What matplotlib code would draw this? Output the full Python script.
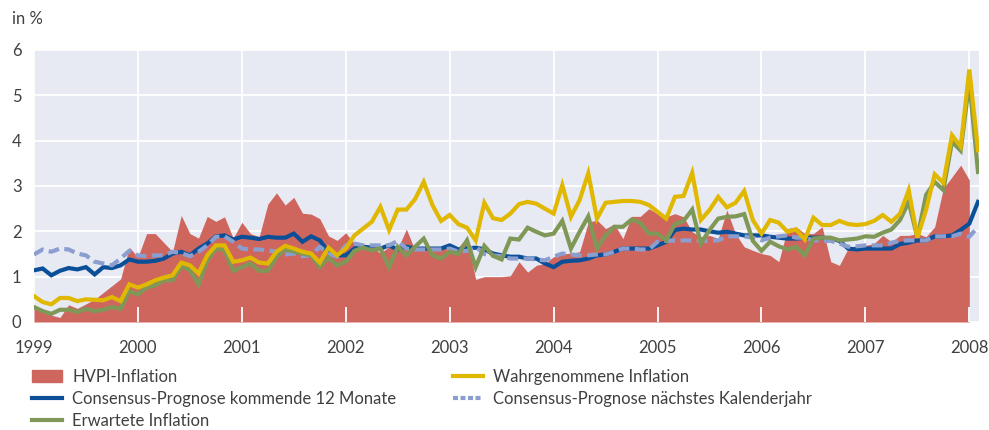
import numpy as np
import matplotlib.pyplot as plt
from matplotlib.lines import Line2D
from matplotlib.patches import Patch

# monthly values, Jan 1999 onwards
hvpi = [0.30, 0.22, 0.15, 0.10, 0.38, 0.30, 0.40, 0.50, 0.65, 0.80, 0.95, 1.65,
        1.43, 1.95, 1.95, 1.75, 1.55, 2.35, 1.95, 1.85, 2.33, 2.22, 2.32, 1.85,
        2.20, 1.95, 1.88, 2.60, 2.85, 2.58, 2.75, 2.40, 2.38, 2.28, 1.90, 1.80,
        1.97, 1.72, 1.66, 1.66, 1.52, 1.66, 1.62, 2.05, 1.58, 1.60, 1.62, 1.62,
        1.62, 1.65, 1.87, 0.94, 1.00, 1.00, 1.00, 1.02, 1.33, 1.10, 1.25, 1.29,
        1.44, 1.50, 1.52, 1.55, 2.20, 2.25, 2.06, 2.16, 1.84, 2.33, 2.33, 2.50,
        2.39, 2.32, 2.39, 2.32, 1.99, 1.88, 1.91, 1.84, 2.47, 1.95, 1.66, 1.58,
        1.51, 1.47, 1.33, 2.06, 2.10, 1.95, 1.95, 2.10, 1.33, 1.25, 1.62, 1.69,
        1.69, 1.73, 1.91, 1.77, 1.91, 1.91, 1.95, 1.88, 2.10, 2.95, 3.20, 3.46,
        3.13]

wahrgenommen = [0.57, 0.44, 0.39, 0.53, 0.53, 0.46, 0.50, 0.49, 0.48, 0.55, 0.46, 0.83,
                0.76, 0.83, 0.92, 0.98, 1.03, 1.31, 1.25, 1.07, 1.47, 1.69, 1.69, 1.33,
                1.36, 1.42, 1.31, 1.29, 1.55, 1.68, 1.62, 1.55, 1.51, 1.31, 1.64, 1.47,
                1.62, 1.91, 2.06, 2.21, 2.54, 2.03, 2.48, 2.48, 2.71, 3.09, 2.58, 2.23,
                2.36, 2.16, 2.08, 1.80, 2.63, 2.29, 2.25, 2.39, 2.60, 2.65, 2.61, 2.50,
                2.39, 3.02, 2.32, 2.69, 3.28, 2.28, 2.63, 2.65, 2.67, 2.67, 2.65, 2.58,
                2.43, 2.28, 2.76, 2.78, 3.29, 2.25, 2.47, 2.76, 2.53, 2.63, 2.89, 2.25,
                1.95, 2.25, 2.19, 1.99, 2.04, 1.82, 2.30, 2.14, 2.14, 2.23, 2.16, 2.14,
                2.16, 2.23, 2.36, 2.21, 2.39, 2.91, 1.86, 2.47, 3.26, 3.07, 4.12, 3.87,
                5.57, 3.79]

erwartet = [0.33, 0.24, 0.18, 0.27, 0.27, 0.22, 0.29, 0.24, 0.27, 0.33, 0.29, 0.68,
            0.61, 0.76, 0.81, 0.92, 0.92, 1.23, 1.14, 0.83, 1.35, 1.62, 1.58, 1.13,
            1.21, 1.29, 1.13, 1.13, 1.44, 1.60, 1.55, 1.51, 1.47, 1.21, 1.42, 1.25,
            1.33, 1.57, 1.64, 1.58, 1.62, 1.21, 1.66, 1.47, 1.66, 1.84, 1.47, 1.40,
            1.55, 1.50, 1.80, 1.21, 1.68, 1.46, 1.38, 1.84, 1.82, 2.08, 1.99, 1.91,
            1.95, 2.23, 1.62, 1.99, 2.33, 1.62, 1.91, 2.10, 2.10, 2.26, 2.19, 1.95,
            1.95, 1.80, 2.16, 2.23, 2.48, 1.73, 2.03, 2.28, 2.32, 2.33, 2.38, 1.79,
            1.57, 1.77, 1.67, 1.60, 1.66, 1.47, 1.84, 1.86, 1.86, 1.80, 1.82, 1.84,
            1.89, 1.88, 1.97, 2.04, 2.25, 2.65, 1.86, 2.80, 3.09, 2.91, 3.98, 3.78,
            5.30, 3.31]

consensus_12m = [1.14, 1.18, 1.03, 1.13, 1.19, 1.16, 1.21, 1.05, 1.21, 1.19, 1.25, 1.38,
                 1.33, 1.33, 1.35, 1.40, 1.51, 1.55, 1.47, 1.62, 1.73, 1.89, 1.91, 1.82,
                 1.88, 1.86, 1.83, 1.88, 1.86, 1.86, 1.95, 1.77, 1.89, 1.80, 1.55, 1.47,
                 1.47, 1.62, 1.66, 1.64, 1.62, 1.69, 1.60, 1.66, 1.62, 1.62, 1.62, 1.62,
                 1.69, 1.60, 1.62, 1.64, 1.60, 1.51, 1.47, 1.44, 1.44, 1.40, 1.40, 1.29,
                 1.21, 1.33, 1.35, 1.36, 1.40, 1.47, 1.49, 1.55, 1.62, 1.62, 1.62, 1.62,
                 1.69, 1.77, 2.03, 2.06, 2.04, 2.04, 2.00, 1.97, 1.99, 1.95, 1.91, 1.91,
                 1.91, 1.88, 1.86, 1.84, 1.84, 1.86, 1.86, 1.86, 1.84, 1.79, 1.62, 1.60,
                 1.62, 1.62, 1.62, 1.62, 1.72, 1.75, 1.80, 1.80, 1.89, 1.89, 1.91, 2.03,
                 2.17, 2.65]

consensus_jahr = [1.49, 1.60, 1.55, 1.62, 1.60, 1.51, 1.47, 1.33, 1.29, 1.25, 1.40, 1.57,
                  1.47, 1.45, 1.47, 1.47, 1.55, 1.52, 1.45, 1.55, 1.69, 1.88, 1.89, 1.77,
                  1.62, 1.60, 1.60, 1.58, 1.55, 1.49, 1.51, 1.45, 1.47, 1.66, 1.51, 1.44,
                  1.69, 1.73, 1.69, 1.69, 1.69, 1.69, 1.79, 1.62, 1.60, 1.60, 1.60, 1.60,
                  1.62, 1.55, 1.57, 1.66, 1.50, 1.47, 1.45, 1.40, 1.40, 1.40, 1.38, 1.36,
                  1.44, 1.51, 1.49, 1.47, 1.47, 1.49, 1.49, 1.55, 1.62, 1.62, 1.60, 1.60,
                  1.77, 1.79, 1.80, 1.80, 1.80, 1.79, 1.79, 1.80, 1.89, 1.89, 1.89, 1.86,
                  1.80, 1.86, 1.89, 1.91, 1.86, 1.86, 1.80, 1.79, 1.79, 1.73, 1.66, 1.67,
                  1.69, 1.69, 1.69, 1.75, 1.79, 1.80, 1.80, 1.80, 1.89, 1.89, 1.89, 1.95,
                  1.88, 2.10]

years = list(range(1999, 2009))
labels = ['HVPI-Inflation', 'Consensus-Prognose kommende 12 Monate', 'Erwartete Inflation',
          'Wahrgenommene Inflation', 'Consensus-Prognose nächstes Kalenderjahr']

c_red = '#cf665e'
c_yellow = '#e1b800'
c_green = '#7f9858'
c_blue = '#0a4f98'
c_lblue = '#8a9ecf'
c_bg = '#e7e9f3'
c_text = '#404040'

plt.rcParams['font.family'] = ['Lato', 'DejaVu Sans']

t_red = 1999 + np.arange(len(hvpi)) / 12
t = 1999 + np.arange(len(wahrgenommen)) / 12

fig = plt.figure(figsize=(9.89, 4.30), dpi=100)
ax = fig.add_axes([34 / 989, 1 - 322 / 430, 945 / 989, 272 / 430])
ax.set_facecolor(c_bg)
for s in ax.spines.values():
    s.set_visible(False)

ax.fill_between(t_red, 0, hvpi, color=c_red, lw=0, zorder=2)
ax.plot(t, consensus_12m, color=c_blue, lw=3, zorder=3, solid_joinstyle='miter')
ax.plot(t, consensus_jahr, color=c_lblue, lw=3, dashes=(2.6, 1.3), zorder=4)
ax.plot(t, erwartet, color=c_green, lw=3, zorder=5, solid_joinstyle='miter')
ax.plot(t, wahrgenommen, color=c_yellow, lw=3, zorder=6, solid_joinstyle='miter')

ax.set_xlim(1999, 2008.093)
ax.set_ylim(0, 6)
ax.set_xticks(years)
ax.set_yticks(range(0, 7))
ax.grid(color='white', lw=1.3)
ax.set_axisbelow(True)
ax.tick_params(length=0, labelsize=12, colors=c_text)
ax.tick_params(axis='x', pad=13)
ax.tick_params(axis='y', pad=9)
# short white ticks drawn on top of the area
ax.vlines(years[1:], 0, 0.055, transform=ax.get_xaxis_transform(), color='white', lw=1.3, zorder=7)

fig.text(12 / 989, 1 - 19 / 430, 'in %', fontsize=12, color=c_text, va='center')

h = [Patch(color=c_red),
     Line2D([], [], color=c_blue, lw=3),
     Line2D([], [], color=c_green, lw=3),
     Line2D([], [], color=c_yellow, lw=3),
     Line2D([], [], color=c_lblue, lw=3, dashes=(1.2, 0.6))]
kw = dict(loc='upper left', frameon=False, fontsize=12, handlelength=1.8, handletextpad=0.6,
          labelspacing=0.36, borderpad=0, borderaxespad=0, labelcolor=c_text)
fig.legend(h[:3], labels[:3], bbox_to_anchor=(32 / 989, 1 - 369 / 430), **kw)
fig.legend(h[3:], labels[3:], bbox_to_anchor=(453 / 989, 1 - 369 / 430), **kw)

fig.savefig('out.png', dpi=100, facecolor='white')
